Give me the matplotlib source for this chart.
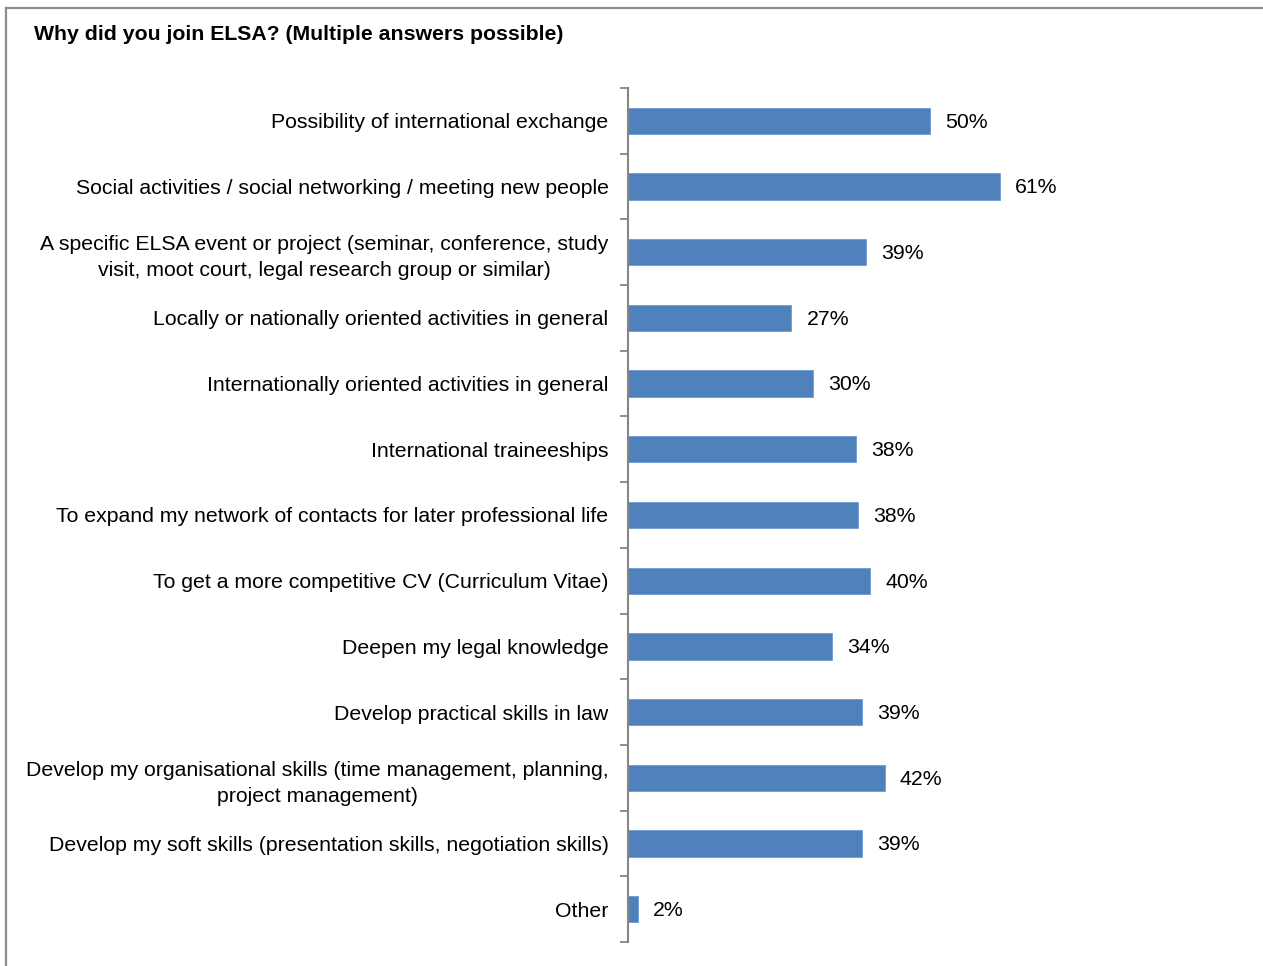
import matplotlib
matplotlib.use("Agg")
import matplotlib.pyplot as plt
from matplotlib.lines import Line2D

plt.rcParams['font.family'] = ['Liberation Sans', 'DejaVu Sans']

title = "Why did you join ELSA? (Multiple answers possible)"
reasons = [
    "Possibility of international exchange",
    "Social activities / social networking / meeting new people",
    "A specific ELSA event or project (seminar, conference, study\nvisit, moot court, legal research group or similar)",
    "Locally or nationally oriented activities in general",
    "Internationally oriented activities in general",
    "International traineeships",
    "To expand my network of contacts for later professional life",
    "To get a more competitive CV (Curriculum Vitae)",
    "Deepen my legal knowledge",
    "Develop practical skills in law",
    "Develop my organisational skills (time management, planning,\nproject management)",
    "Develop my soft skills (presentation skills, negotiation skills)",
    "Other",
]
shares = [49.8, 61.3, 39.2, 26.9, 30.4, 37.6, 37.9, 39.9, 33.6, 38.6, 42.3, 38.6, 1.6]

W, H = 1263, 966
fig = plt.figure(figsize=(W / 100, H / 100), dpi=100)
ax = fig.add_axes([628 / W, (H - 942) / H, (1235 - 628) / W, (942 - 88) / H])

ypos = list(range(len(reasons)))
ax.barh(ypos, shares, height=0.4, color='#4F81BD', edgecolor='#6F9BD0', linewidth=0.6)
for y, v in zip(ypos, shares):
    ax.text(v + 2.5, y + 0.02, f"{round(v)}%", va='center', ha='left', fontsize=15.3)

ax.set_xlim(0, 100)
ax.set_ylim(len(reasons) - 0.5, -0.5)
ax.set_yticks(ypos)
ax.set_yticklabels(reasons, fontsize=15.3, multialignment='center', linespacing=1.45)
ax.set_yticks([i - 0.5 for i in range(len(reasons) + 1)], minor=True)
ax.tick_params(axis='y', which='major', length=0, pad=14)
ax.tick_params(axis='y', which='minor', length=6, width=1.3, color='#868686')
ax.set_xticks([])
for s in ['top', 'right', 'bottom']:
    ax.spines[s].set_visible(False)
ax.spines['left'].set_color('#868686')
ax.spines['left'].set_linewidth(1.5)

fig.text(34 / W, 1 - 34 / H, title, fontsize=15.3, fontweight='bold', va='center', ha='left')

# outer chart frame (top and left edges visible)
fig.add_artist(Line2D([6 / W, 1], [1 - 8 / H, 1 - 8 / H], color='#8C8C8C', lw=1.6, transform=fig.transFigure))
fig.add_artist(Line2D([6 / W, 6 / W], [0, 1 - 8 / H], color='#8C8C8C', lw=1.6, transform=fig.transFigure))

fig.savefig("out.png", dpi=100)
